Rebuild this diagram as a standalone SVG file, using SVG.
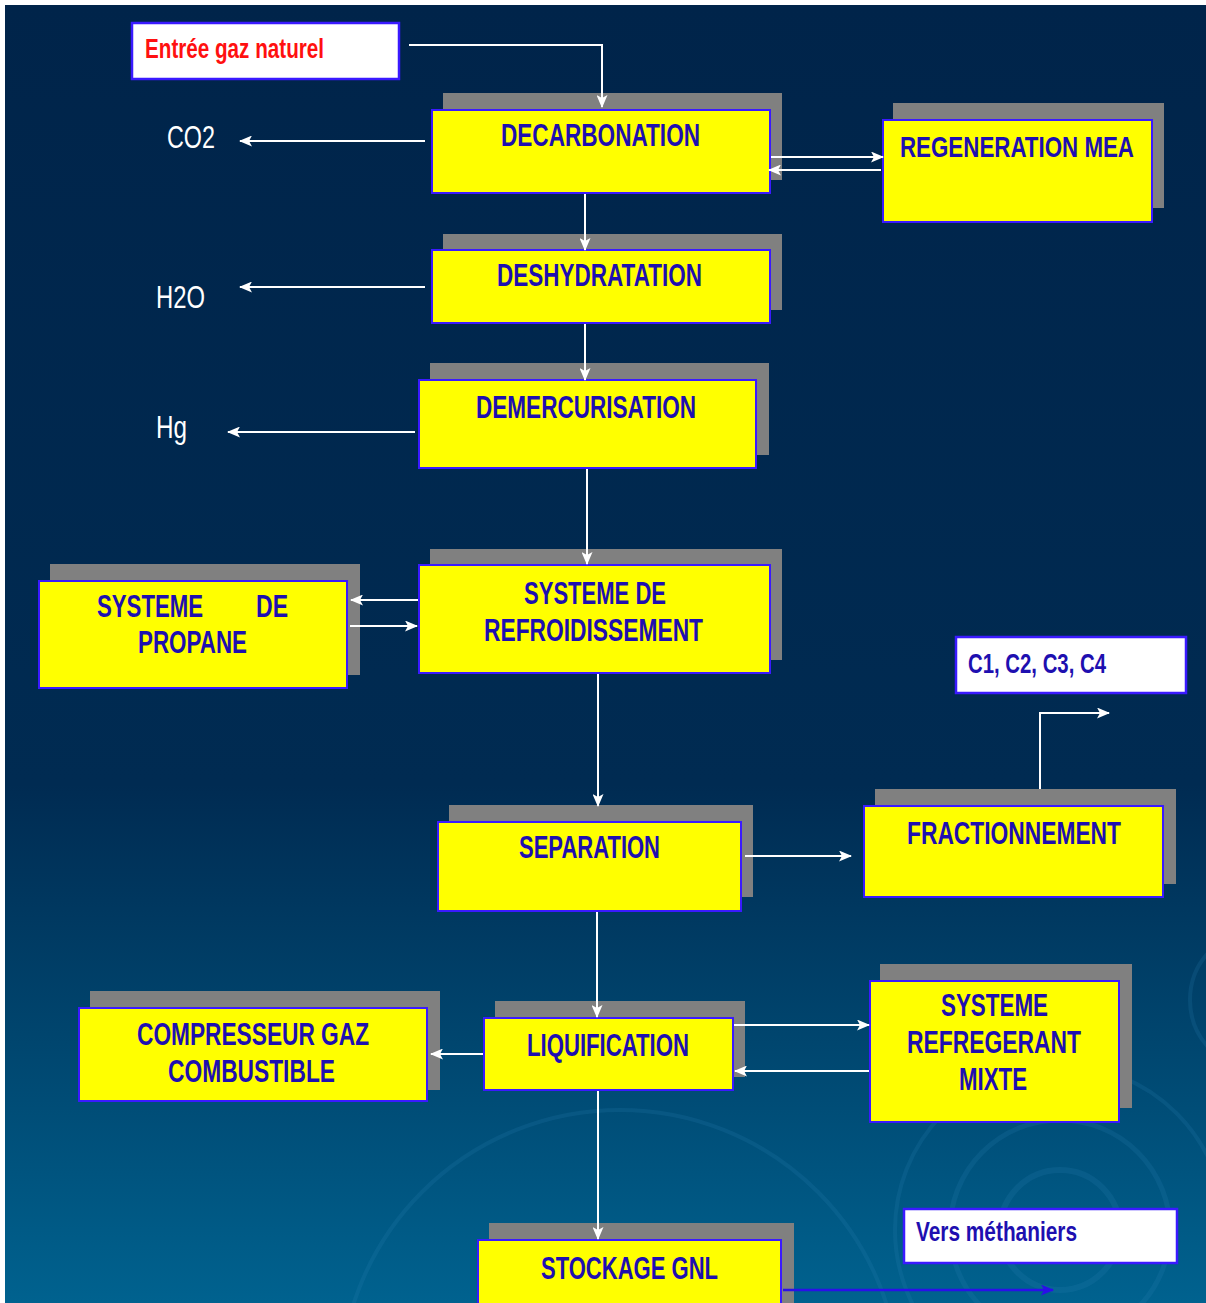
<svg xmlns="http://www.w3.org/2000/svg" width="1206" height="1303" viewBox="0 0 1206 1303">
<defs>
<linearGradient id="bg" x1="0" y1="0" x2="0" y2="1">
<stop offset="0" stop-color="#00244a"/>
<stop offset="0.6" stop-color="#002b52"/>
<stop offset="0.8" stop-color="#00466f"/>
<stop offset="1" stop-color="#00628f"/>
</linearGradient>
<marker id="aw" markerWidth="13" markerHeight="11" refX="12" refY="5.5" orient="auto" markerUnits="userSpaceOnUse">
<path d="M0,0 L13,5.5 L0,11 L3,5.5 Z" fill="#ffffff"/>
</marker>
<marker id="ab" markerWidth="13" markerHeight="11" refX="12" refY="5.5" orient="auto" markerUnits="userSpaceOnUse">
<path d="M0,0 L13,5.5 L0,11 L3,5.5 Z" fill="#2a10e8"/>
</marker>
</defs>
<style>
.sh{fill:#808080}
.bx{fill:#ffff00;stroke:#3a1aff;stroke-width:2}
.wb{fill:#ffffff;stroke:#3a1aff;stroke-width:2.5}
.t{font-family:"Liberation Sans Narrow","Liberation Sans",Arial,sans-serif;font-weight:bold;font-size:31px;fill:#1e0fb0}
.w{font-family:"Liberation Sans Narrow","Liberation Sans",Arial,sans-serif;font-size:31px;fill:#ffffff}
.c{stroke:#ffffff;stroke-width:2;fill:none}
.deco{fill:none;stroke:#2a86b8;stroke-opacity:0.18}
</style>
<rect x="0" y="0" width="1206" height="1303" fill="#ffffff"/>
<rect x="5" y="5" width="1201" height="1298" fill="url(#bg)"/>
<g class="deco">
<circle cx="1060" cy="1230" r="60" stroke-width="6"/>
<circle cx="1060" cy="1230" r="110" stroke-width="5"/>
<circle cx="1060" cy="1230" r="165" stroke-width="4"/>
<circle cx="1260" cy="1000" r="70" stroke-width="4"/>
<circle cx="620" cy="1390" r="280" stroke-width="4"/>
</g>

<g id="entree">
<rect class="wb" x="132" y="23" width="267" height="56"/>
<text x="145" y="58" class="t" style="fill:#ff1010;font-size:28px" textLength="179" lengthAdjust="spacingAndGlyphs">Entrée gaz naturel</text>
</g>
<g id="co2"><text x="167" y="148" class="w" textLength="48" lengthAdjust="spacingAndGlyphs">CO2</text></g>
<g id="h2o"><text x="156" y="308" class="w" textLength="49" lengthAdjust="spacingAndGlyphs">H2O</text></g>
<g id="hg"><text x="156" y="438" class="w" textLength="31" lengthAdjust="spacingAndGlyphs">Hg</text></g>

<g id="decarbonation">
<rect class="sh" x="443" y="93" width="339" height="87"/>
<rect class="bx" x="432" y="110" width="338" height="83"/>
<text x="501" y="146" class="t" textLength="199" lengthAdjust="spacingAndGlyphs">DECARBONATION</text>
</g>
<g id="regeneration">
<rect class="sh" x="893" y="103" width="271" height="105"/>
<rect class="bx" x="883" y="120" width="269" height="102"/>
<text x="900" y="157" class="t" style="font-size:30px" textLength="234" lengthAdjust="spacingAndGlyphs">REGENERATION MEA</text>
</g>
<g id="deshydratation">
<rect class="sh" x="443" y="234" width="339" height="76"/>
<rect class="bx" x="432" y="250" width="338" height="73"/>
<text x="497" y="286" class="t" textLength="205" lengthAdjust="spacingAndGlyphs">DESHYDRATATION</text>
</g>
<g id="demercurisation">
<rect class="sh" x="430" y="363" width="339" height="92"/>
<rect class="bx" x="419" y="380" width="337" height="88"/>
<text x="476" y="418" class="t" textLength="220" lengthAdjust="spacingAndGlyphs">DEMERCURISATION</text>
</g>
<g id="refroidissement">
<rect class="sh" x="430" y="549" width="352" height="111"/>
<rect class="bx" x="419" y="565" width="351" height="108"/>
<text x="524" y="604" class="t" textLength="142" lengthAdjust="spacingAndGlyphs">SYSTEME DE</text>
<text x="484" y="641" class="t" textLength="219" lengthAdjust="spacingAndGlyphs">REFROIDISSEMENT</text>
</g>
<g id="propane">
<rect class="sh" x="50" y="564" width="310" height="111"/>
<rect class="bx" x="39" y="581" width="308" height="107"/>
<text x="97" y="617" class="t" textLength="106" lengthAdjust="spacingAndGlyphs">SYSTEME</text>
<text x="256" y="617" class="t" textLength="32" lengthAdjust="spacingAndGlyphs">DE</text>
<text x="138" y="653" class="t" textLength="109" lengthAdjust="spacingAndGlyphs">PROPANE</text>
</g>
<g id="separation">
<rect class="sh" x="449" y="805" width="304" height="92"/>
<rect class="bx" x="438" y="822" width="303" height="89"/>
<text x="519" y="858" class="t" textLength="141" lengthAdjust="spacingAndGlyphs">SEPARATION</text>
</g>
<g id="fractionnement">
<rect class="sh" x="875" y="789" width="301" height="95"/>
<rect class="bx" x="864" y="806" width="299" height="91"/>
<text x="907" y="844" class="t" textLength="214" lengthAdjust="spacingAndGlyphs">FRACTIONNEMENT</text>
</g>
<g id="c1c4">
<rect class="wb" x="956" y="637" width="230" height="56"/>
<text x="968" y="673" class="t" style="font-size:28px" textLength="138" lengthAdjust="spacingAndGlyphs">C1, C2, C3, C4</text>
</g>
<g id="compresseur">
<rect class="sh" x="90" y="991" width="350" height="99"/>
<rect class="bx" x="79" y="1008" width="348" height="93"/>
<text x="137" y="1045" class="t" textLength="232" lengthAdjust="spacingAndGlyphs">COMPRESSEUR GAZ</text>
<text x="168" y="1082" class="t" textLength="167" lengthAdjust="spacingAndGlyphs">COMBUSTIBLE</text>
</g>
<g id="liquification">
<rect class="sh" x="495" y="1001" width="250" height="76"/>
<rect class="bx" x="484" y="1018" width="249" height="72"/>
<text x="527" y="1056" class="t" textLength="162" lengthAdjust="spacingAndGlyphs">LIQUIFICATION</text>
</g>
<g id="refregerant">
<rect class="sh" x="880" y="964" width="252" height="144"/>
<rect class="bx" x="870" y="981" width="249" height="141"/>
<text x="941" y="1016" class="t" textLength="107" lengthAdjust="spacingAndGlyphs">SYSTEME</text>
<text x="907" y="1053" class="t" textLength="174" lengthAdjust="spacingAndGlyphs">REFREGERANT</text>
<text x="959" y="1090" class="t" textLength="68" lengthAdjust="spacingAndGlyphs">MIXTE</text>
</g>
<g id="stockage">
<rect class="sh" x="489" y="1223" width="305" height="82"/>
<rect class="bx" x="478" y="1240" width="303" height="66"/>
<text x="541" y="1279" class="t" textLength="177" lengthAdjust="spacingAndGlyphs">STOCKAGE GNL</text>
</g>
<g id="methaniers">
<rect class="wb" x="904" y="1209" width="273" height="54"/>
<text x="916" y="1241" class="t" style="font-size:28px" textLength="161" lengthAdjust="spacingAndGlyphs">Vers méthaniers</text>
</g>

<g id="connectors">
<polyline class="c" points="409,45 602,45 602,107" marker-end="url(#aw)"/>
<line class="c" x1="425" y1="141" x2="240" y2="141" marker-end="url(#aw)"/>
<line class="c" x1="771" y1="157" x2="883" y2="157" marker-end="url(#aw)"/>
<line class="c" x1="881" y1="170" x2="769" y2="170" marker-end="url(#aw)"/>
<line class="c" x1="585" y1="194" x2="585" y2="250" marker-end="url(#aw)"/>
<line class="c" x1="425" y1="287" x2="240" y2="287" marker-end="url(#aw)"/>
<line class="c" x1="585" y1="324" x2="585" y2="380" marker-end="url(#aw)"/>
<line class="c" x1="415" y1="432" x2="228" y2="432" marker-end="url(#aw)"/>
<line class="c" x1="587" y1="469" x2="587" y2="564" marker-end="url(#aw)"/>
<line class="c" x1="418" y1="600" x2="351" y2="600" marker-end="url(#aw)"/>
<line class="c" x1="350" y1="626" x2="417" y2="626" marker-end="url(#aw)"/>
<line class="c" x1="598" y1="674" x2="598" y2="806" marker-end="url(#aw)"/>
<line class="c" x1="745" y1="856" x2="851" y2="856" marker-end="url(#aw)"/>
<polyline class="c" points="1040,789 1040,713 1109,713" marker-end="url(#aw)"/>
<line class="c" x1="597" y1="912" x2="597" y2="1017" marker-end="url(#aw)"/>
<line class="c" x1="483" y1="1054" x2="431" y2="1054" marker-end="url(#aw)"/>
<line class="c" x1="734" y1="1025" x2="869" y2="1025" marker-end="url(#aw)"/>
<line class="c" x1="869" y1="1071" x2="735" y2="1071" marker-end="url(#aw)"/>
<line class="c" x1="598" y1="1091" x2="598" y2="1239" marker-end="url(#aw)"/>
<line x1="783" y1="1290" x2="1053" y2="1290" stroke="#2a10e8" stroke-width="2.5" marker-end="url(#ab)"/>
</g>
</svg>
